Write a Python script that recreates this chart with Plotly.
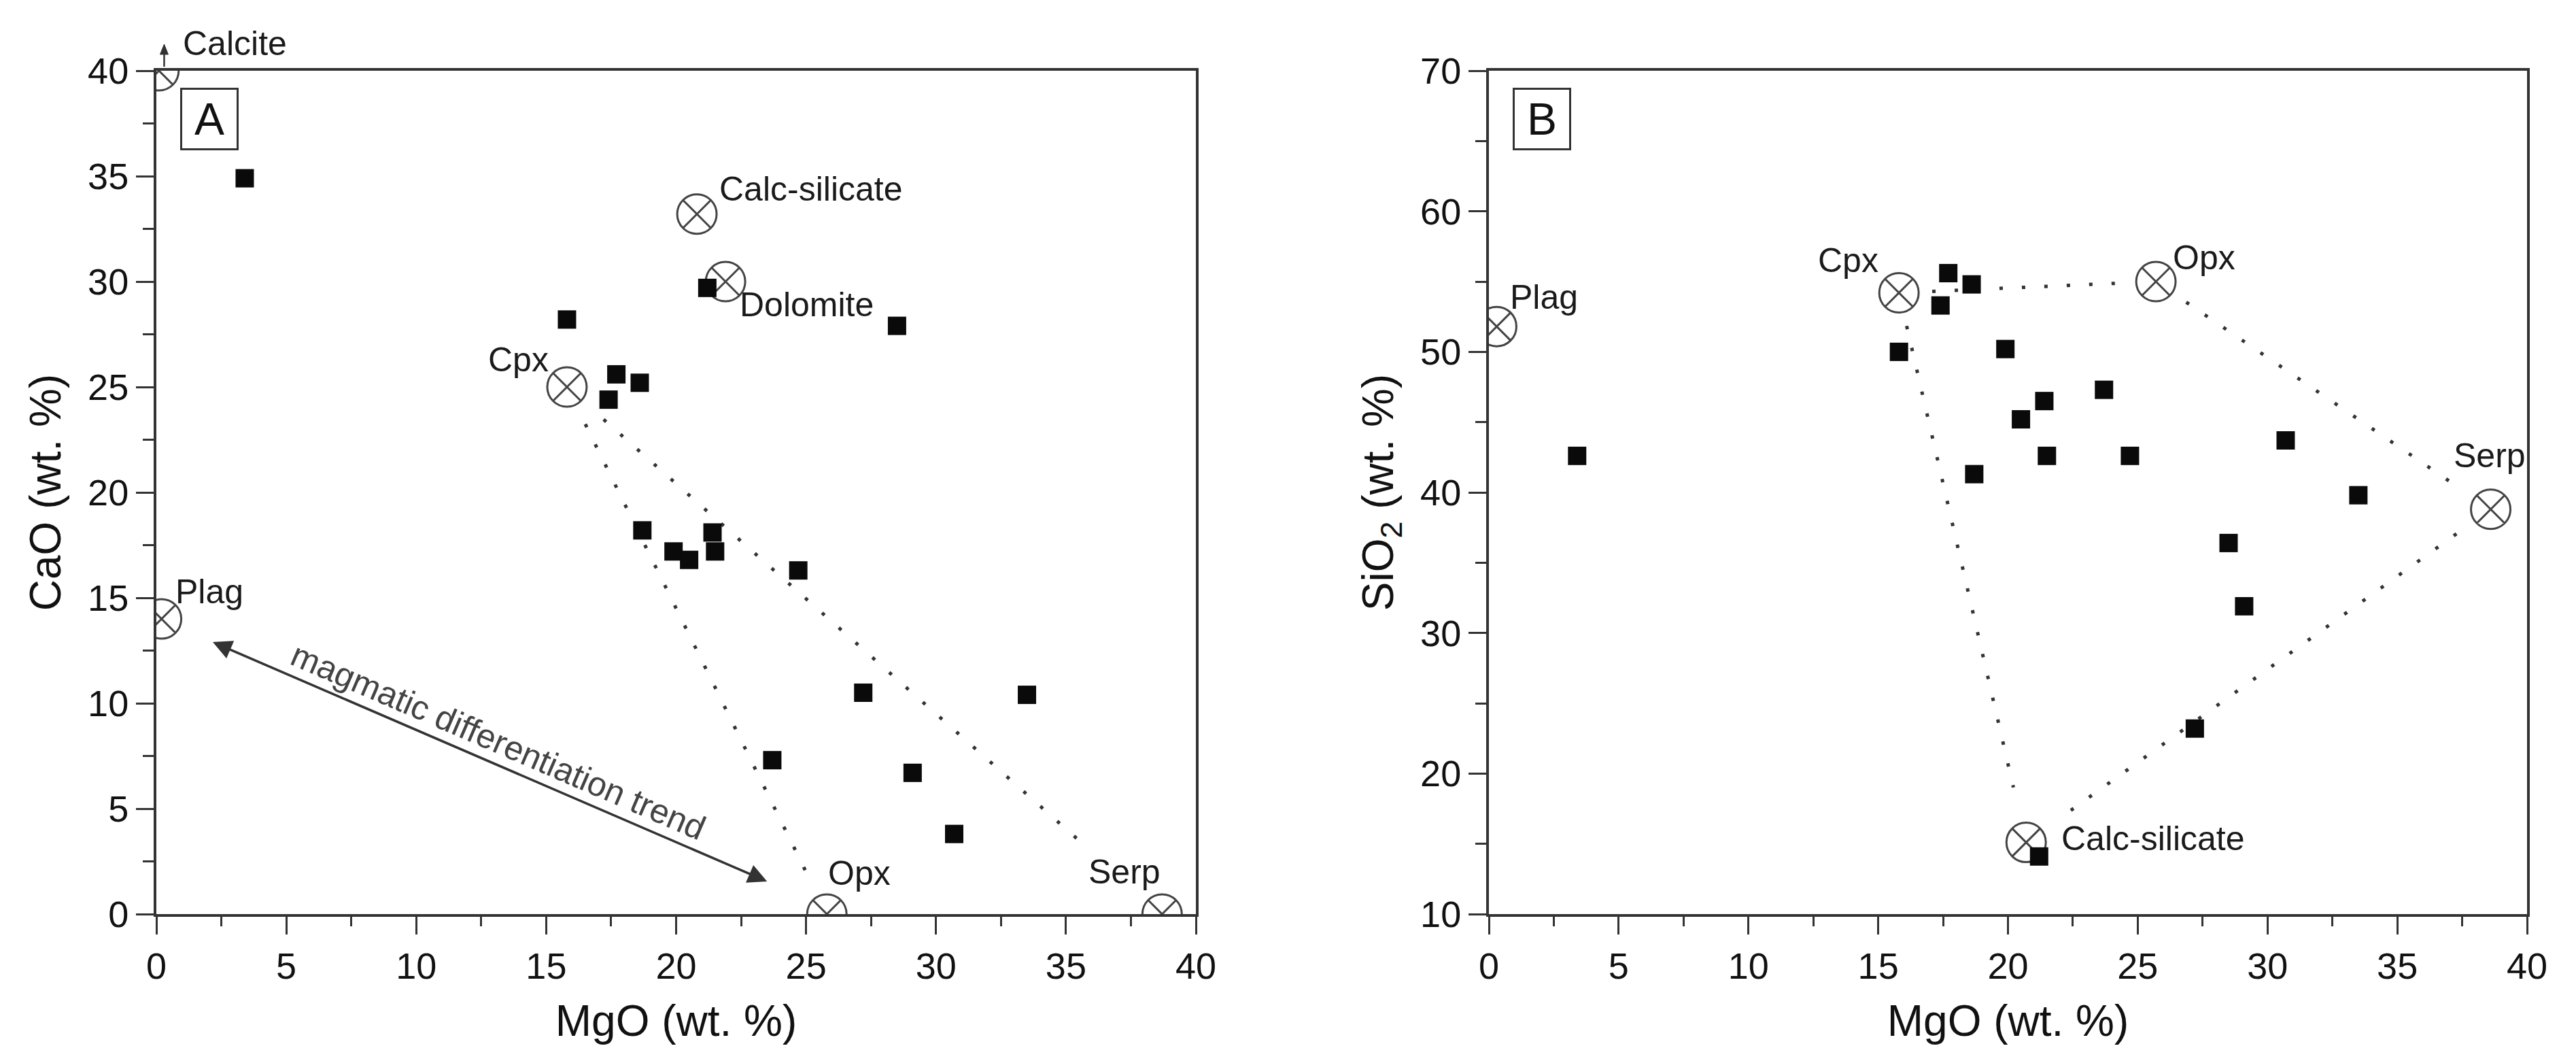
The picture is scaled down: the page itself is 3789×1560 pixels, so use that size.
import math
import plotly.graph_objects as go

# ---------------- data ----------------
# samples (MgO shared by both panels)
mgo = [3.4, 21.2, 15.8, 28.5, 17.7, 18.6, 17.4, 18.7, 21.4, 19.9, 20.5, 21.5, 24.7, 27.2, 33.5, 23.7, 29.1, 30.7]
cao = [34.9, 29.7, 28.2, 27.9, 25.6, 25.2, 24.4, 18.2, 18.1, 17.2, 16.8, 17.2, 16.3, 10.5, 10.4, 7.3, 6.7, 3.8]
sio2 = [42.6, 14.1, 50.0, 36.4, 55.6, 54.8, 53.3, 41.3, 46.5, 50.2, 45.2, 42.6, 42.6, 23.2, 39.8, 47.3, 31.9, 43.7]

# end-members panel A (MgO vs CaO)
em_a_names = ["Calcite", "Calc-silicate", "Dolomite", "Cpx", "Plag", "Opx", "Serp"]
em_a_mgo = [0.1, 20.8, 21.9, 15.8, 0.2, 25.8, 38.7]
em_a_cao = [40.0, 33.2, 30.0, 25.0, 14.0, 0.0, 0.0]

# end-members panel B (MgO vs SiO2)
em_b_names = ["Plag", "Cpx", "Opx", "Serp", "Calc-silicate"]
em_b_mgo = [0.3, 15.8, 25.7, 38.6, 20.7]
em_b_sio2 = [51.8, 54.2, 55.0, 38.8, 15.1]

# mixing lines (pairs of end-member names)
lines_a = [("Cpx", "Opx"), ("Cpx", "Serp")]
lines_b = [("Cpx", "Opx"), ("Opx", "Serp"), ("Serp", "Calc-silicate"), ("Cpx", "Calc-silicate")]

# magmatic differentiation trend arrow (MgO, CaO)
trend_start = (2.17, 12.9)
trend_end = (23.5, 1.55)
trend_label = "magmatic differentiation trend"

x_ticks = [0, 5, 10, 15, 20, 25, 30, 35, 40]

# ---------------- style / layout constants ----------------
W, H = 3789, 1560
dom_ax = [222 / W, 1751 / W]
dom_bx = [2182 / W, 3709 / W]
dom_y = [1 - 1336 / H, 1 - 96 / H]
FONT = "Liberation Sans, Arial, Helvetica, sans-serif"
AX = "#333333"

# gap (px) left at each end of the mixing lines
gaps_a = [(61, 72), (72, 158)]
gaps_b = [(49, 47), (54, 72), (62, 81), (50, 83)]

# label offsets (px) relative to end-member marker, and anchor
lab_a = {"Calcite": (33, 40, "left"), "Calc-silicate": (31, 37, "left"),
         "Dolomite": (19, -34, "left"), "Cpx": (-25, 40, "right"),
         "Plag": (18, 40, "left"), "Opx": (0, 60, "left"), "Serp": (0, 62, "right")}
lab_b = {"Plag": (18, 43, "left"), "Cpx": (-28, 48, "right"), "Opx": (23, 35, "left"),
         "Serp": (-57, 79, "left"), "Calc-silicate": (50, 6, "left")}

sx = (dom_ax[1] - dom_ax[0]) * W / 40.0
sy_a = (dom_y[1] - dom_y[0]) * H / 40.0
sy_b = (dom_y[1] - dom_y[0]) * H / 60.0


def trimmed(p, q, g0, g1, sy):
    dxp = (q[0] - p[0]) * sx
    dyp = (q[1] - p[1]) * sy
    L = math.hypot(dxp, dyp)
    ux, uy = dxp / L, dyp / L
    a = (p[0] + ux * g0 / sx, p[1] + uy * g0 / sy)
    b = (q[0] - ux * g1 / sx, q[1] - uy * g1 / sy)
    return a, b


fig = go.Figure()

# ---- dotted mixing lines ----
def add_lines(pairs, gaps, names, xs, ys, sy, xr, yr):
    for (n0, n1), (g0, g1) in zip(pairs, gaps):
        i, j = names.index(n0), names.index(n1)
        a, b = trimmed((xs[i], ys[i]), (xs[j], ys[j]), g0, g1, sy)
        fig.add_trace(go.Scatter(x=[a[0], b[0]], y=[a[1], b[1]], mode="lines",
                                 line=dict(color="#333333", width=5, dash="5px,28px"),
                                 xaxis=xr, yaxis=yr, showlegend=False, hoverinfo="skip"))


add_lines(lines_a, gaps_a, em_a_names, em_a_mgo, em_a_cao, sy_a, "x", "y")
add_lines(lines_b, gaps_b, em_b_names, em_b_mgo, em_b_sio2, sy_b, "x2", "y2")

# ---- end-member markers ----
em_marker = dict(symbol="circle-x-open", size=58, color="#444444", line=dict(width=3, color="#444444"))
fig.add_trace(go.Scatter(x=em_a_mgo, y=em_a_cao, mode="markers", marker=em_marker,
                         xaxis="x", yaxis="y", showlegend=False, cliponaxis=True))
fig.add_trace(go.Scatter(x=em_b_mgo, y=em_b_sio2, mode="markers", marker=em_marker,
                         xaxis="x2", yaxis="y2", showlegend=False, cliponaxis=True))

# ---- samples ----
sq = dict(symbol="square", size=27, color="#0a0a0a", line=dict(width=0))
fig.add_trace(go.Scatter(x=mgo, y=cao, mode="markers", marker=sq, xaxis="x", yaxis="y", showlegend=False))
fig.add_trace(go.Scatter(x=mgo, y=sio2, mode="markers", marker=sq, xaxis="x2", yaxis="y2", showlegend=False))

# ---- trend arrow (line + two arrow heads) ----
tdx = (trend_end[0] - trend_start[0]) * sx
tdy = (trend_end[1] - trend_start[1]) * sy_a
tlen = math.hypot(tdx, tdy)
ux, uy = tdx / tlen, tdy / tlen
back = 14  # px the shaft stops short of each tip
shaft_x = [trend_start[0] + ux * back / sx, trend_end[0] - ux * back / sx]
shaft_y = [trend_start[1] + uy * back / sy_a, trend_end[1] - uy * back / sy_a]
fig.add_trace(go.Scatter(x=shaft_x, y=shaft_y, mode="lines", line=dict(color="#333", width=3.5),
                         xaxis="x", yaxis="y", showlegend=False, hoverinfo="skip"))
ang_end = math.degrees(math.atan2(-uy, ux)) + 90  # clockwise from up
ang_start = ang_end + 180
fig.add_trace(go.Scatter(x=[trend_end[0], trend_start[0]], y=[trend_end[1], trend_start[1]],
                         mode="markers", marker=dict(symbol="arrow-up", size=28, color="#333",
                                                     angle=[ang_end, ang_start], line=dict(width=0)),
                         xaxis="x", yaxis="y", showlegend=False, hoverinfo="skip"))

# ---- Calcite off-scale arrow (paper-space shapes placed from the Calcite end-member) ----
ci = em_a_names.index("Calcite")
cal_px = dom_ax[0] * W + (em_a_mgo[ci] + 0.2) * sx          # pixel x
cal_py = dom_y[0] * H + em_a_cao[ci] * sy_a                  # pixel y (from bottom)
def P(dx, dy):
    return (cal_px + dx) / W, (cal_py + dy) / H
sx0, sy0 = P(0, 6)
sx1, sy1 = P(0, 26)
hl, hb = P(-6, 24)
hr, _ = P(6, 24)
ht, hty = P(0, 39)
shapes = [
    dict(type="line", xref="paper", yref="paper", x0=sx0, x1=sx1, y0=sy0, y1=sy1,
         line=dict(color="#333", width=2.5)),
    dict(type="path", xref="paper", yref="paper",
         path=f"M {hl} {hb} L {hr} {hb} L {ht} {hty} Z",
         fillcolor="#333", line=dict(color="#333", width=1)),
]

annotations = []

def add_labels(names, xs, ys, labs, xr, yr):
    for n, x, y in zip(names, xs, ys):
        dx, dy, anc = labs[n]
        annotations.append(dict(x=x, y=y, xref=xr, yref=yr, text=n, showarrow=False,
                                xanchor=anc, yanchor="middle", xshift=dx, yshift=dy,
                                font=dict(family=FONT, size=50, color="#1a1a1a")))


add_labels(em_a_names, em_a_mgo, em_a_cao, lab_a, "x", "y")
add_labels(em_b_names, em_b_mgo, em_b_sio2, lab_b, "x2", "y2")

mid = ((trend_start[0] + trend_end[0]) / 2, (trend_start[1] + trend_end[1]) / 2)
ang = math.degrees(math.atan2(-tdy, tdx))
annotations.append(dict(x=mid[0], y=mid[1], xref="x", yref="y", text=trend_label, showarrow=False,
                        textangle=ang, xanchor="center", yanchor="middle", yshift=30, xshift=12,
                        font=dict(family=FONT, size=50, color="#444")))

# panel letters
for letter, xr, yr in [("A", "x domain", "y domain"), ("B", "x2 domain", "y2 domain")]:
    annotations.append(dict(x=35 / 1529, y=1 - 25 / 1240, xref=xr, yref=yr, text=letter,
                            showarrow=False, xanchor="left", yanchor="top",
                            bordercolor="#333", borderwidth=3, borderpad=0, width=80, height=86,
                            font=dict(family=FONT, size=66, color="#111")))

axis_common = dict(showline=True, linewidth=4, linecolor=AX, mirror=True,
                   ticks="outside", ticklen=26, tickwidth=3, tickcolor=AX,
                   tickfont=dict(family=FONT, size=54, color="#111"),
                   showgrid=False, zeroline=False)

xa = dict(axis_common, range=[0, 40], tickvals=x_ticks, ticktext=[str(v) for v in x_ticks],
          minor=dict(ticks="outside", ticklen=14, tickwidth=3, tickcolor=AX, dtick=2.5, showgrid=False),
          title=dict(text="MgO (wt. %)", font=dict(family=FONT, size=64, color="#111"), standoff=30))

fig.update_layout(
    width=W, height=H, template="none",
    paper_bgcolor="white", plot_bgcolor="white",
    margin=dict(l=0, r=0, t=0, b=0),
    font=dict(family=FONT, color="#111"),
    xaxis=dict(xa, domain=dom_ax, anchor="y"),
    yaxis=dict(axis_common, domain=dom_y, anchor="x", range=[0, 40], dtick=5, tick0=0,
               minor=dict(ticks="outside", ticklen=16, tickwidth=3, tickcolor=AX, dtick=2.5, showgrid=False),
               title=dict(text="CaO (wt. %)", font=dict(family=FONT, size=64, color="#111"), standoff=20)),
    xaxis2=dict(xa, domain=dom_bx, anchor="y2"),
    yaxis2=dict(axis_common, domain=dom_y, anchor="x2", range=[10, 70], dtick=10, tick0=10,
                minor=dict(ticks="outside", ticklen=16, tickwidth=3, tickcolor=AX, dtick=5, showgrid=False),
                title=dict(text="SiO<sub>2</sub> (wt. %)", font=dict(family=FONT, size=64, color="#111"), standoff=20)),
    annotations=annotations,
    shapes=shapes,
    showlegend=False,
)

fig.write_html("out.html")
